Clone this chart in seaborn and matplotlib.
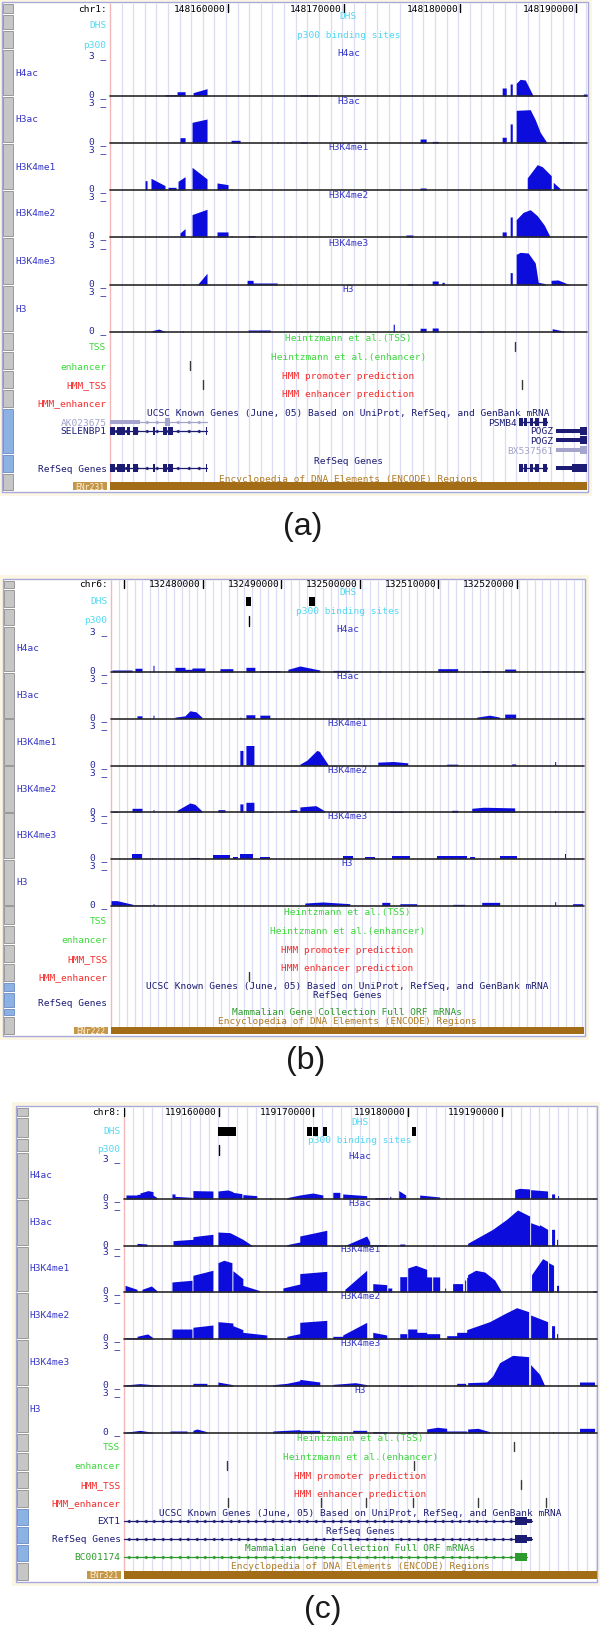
import numpy as np
import matplotlib
matplotlib.use("Agg")
import matplotlib.pyplot as plt
from matplotlib.patches import Rectangle
import seaborn as sns

sns.set_theme(style="white")
plt.rcParams["font.family"] = ["DejaVu Sans Mono", "DejaVu Sans"]

tracks = ["H4ac", "H3ac", "H3K4me1", "H3K4me2", "H3K4me3", "H3"]

# ---------------- panel (a) chr1 : x in kb from the window's left edge ----------------
a_chrom = "chr1"
a_origin = 148149830
a_span = 41.1
a_ticks = [148160000, 148170000, 148180000, 148190000]
a_region = "ENr231"
# signal blocks: (start kb, end kb, value at start, value at end)
a_h4ac = [(4.74, 5.78, 0.1, 0.1), (5.78, 6.47, 0.32, 0.32), (7.16, 8.36, 0.25, 0.55),
          (16.38, 17.84, 0.08, 0.08), (33.79, 34.14, 0.6, 0.6), (34.48, 34.66, 0.9, 0.9),
          (35.0, 35.34, 0.95, 1.25), (35.34, 35.78, 1.25, 1.2), (35.78, 36.47, 1.2, 0.0),
          (40.78, 41.1, 0.15, 0.15)]
a_h3ac = [(6.03, 6.47, 0.4, 0.4), (7.07, 8.36, 1.55, 1.8), (10.43, 11.21, 0.2, 0.2),
          (14.4, 14.5, 0.1, 0.1), (15.5, 15.6, 0.1, 0.1), (16.38, 16.98, 0.08, 0.08),
          (26.72, 27.24, 0.3, 0.3), (27.76, 28.28, 0.12, 0.12), (33.79, 34.14, 0.43, 0.43),
          (34.48, 34.66, 1.43, 1.43), (35.0, 36.21, 2.45, 2.5), (36.21, 36.64, 2.5, 1.75),
          (36.64, 37.07, 1.75, 0.8), (37.07, 37.67, 0.8, 0.0), (38.62, 39.83, 0.1, 0.1)]
a_h3k4me1 = [(3.02, 3.19, 0.7, 0.7), (3.53, 4.74, 0.88, 0.33), (5.0, 5.69, 0.2, 0.2),
             (5.86, 6.47, 0.65, 1.0), (7.07, 8.36, 1.7, 0.83), (9.22, 10.17, 0.53, 0.4),
             (10.43, 10.52, 0.1, 0.1), (12.76, 12.84, 0.08, 0.08), (26.72, 27.24, 0.15, 0.15),
             (35.95, 36.81, 0.9, 1.9), (36.81, 37.24, 1.9, 1.75), (37.24, 38.02, 1.75, 1.07),
             (38.19, 38.79, 0.58, 0.1)]
a_h3k4me2 = [(6.03, 6.47, 0.3, 0.63), (7.07, 8.36, 1.68, 2.08), (9.22, 10.17, 0.38, 0.38),
             (10.43, 10.52, 0.1, 0.1), (11.9, 12.5, 0.1, 0.1), (15.5, 15.6, 0.08, 0.08),
             (25.5, 26.1, 0.15, 0.15), (33.79, 34.14, 0.38, 0.38), (34.48, 34.66, 1.5, 1.5),
             (35.0, 35.6, 1.3, 1.85), (35.6, 36.21, 1.85, 2.05), (36.21, 36.81, 2.05, 1.6),
             (36.81, 37.41, 1.6, 0.9), (37.41, 37.93, 0.9, 0.0)]
a_h3k4me3 = [(6.29, 6.38, 0.1, 0.1), (7.5, 8.36, 0.0, 0.88), (11.81, 12.33, 0.35, 0.35),
             (12.33, 14.4, 0.15, 0.15), (15.5, 15.6, 0.08, 0.08), (25.6, 26.1, 0.08, 0.08),
             (27.76, 28.28, 0.3, 0.3), (28.6, 28.8, 0.2, 0.2), (34.48, 34.66, 0.93, 0.93),
             (35.0, 35.34, 2.3, 2.45), (35.34, 36.03, 2.45, 2.4), (36.03, 36.64, 2.4, 1.65),
             (36.64, 36.9, 1.65, 0.2), (36.9, 37.5, 0.2, 0.1), (38.0, 38.6, 0.35, 0.38),
             (38.6, 39.66, 0.38, 0.0)]
a_h3 = [(3.62, 4.2, 0.1, 0.22), (4.2, 4.74, 0.22, 0.05), (6.2, 6.3, 0.1, 0.1),
        (11.9, 13.8, 0.15, 0.15), (24.4, 24.5, 0.58, 0.58), (26.72, 27.24, 0.28, 0.28),
        (27.76, 28.28, 0.3, 0.3), (31.6, 32.2, 0.05, 0.05), (33.9, 34.05, 0.05, 0.05),
        (38.1, 39.2, 0.25, 0.05)]
a_dhs = []
a_p300 = []
a_tss = [34.91]
a_enh = [6.90]
a_hmm_tss = [8.02, 35.52]
a_hmm_enh = []
a_selenbp1 = [(0.0, 0.43), (0.6, 1.29), (1.47, 1.72), (1.98, 2.41), (3.71, 3.88),
              (4.57, 4.91), (5.0, 5.43), (8.28, 8.36)]
a_psmb4 = [(35.26, 35.6), (35.69, 35.95), (36.2, 36.47), (36.64, 36.98), (37.33, 37.67)]
a_known = [
    dict(name="AK023675", row=0, start=0.0, end=8.36, exons=[(4.74, 5.17)], utr=[(0.0, 2.6)], mrna=True),
    dict(name="PSMB4", row=0, start=35.26, end=37.67, exons=a_psmb4),
    dict(name="SELENBP1", row=1, start=0.0, end=8.36, exons=a_selenbp1),
    dict(name="POGZ", row=1, start=38.45, end=41.1, exons=[(40.5, 41.1)], utr=[(38.45, 40.5)]),
    dict(name="POGZ", row=2, start=38.45, end=41.1, exons=[(40.5, 41.1)], utr=[(38.45, 40.5)]),
    dict(name="BX537561", row=3, start=38.45, end=41.1, exons=[(40.5, 41.1)], utr=[(38.45, 40.5)], mrna=True),
]
a_refseq = [
    dict(name="", start=0.0, end=8.36, exons=a_selenbp1),
    dict(name="", start=35.26, end=37.67, exons=a_psmb4),
    dict(name="", start=38.45, end=41.1, exons=[(39.8, 41.1)], utr=[(38.45, 39.8)]),
]
a_mgc = []

# ---------------- panel (b) chr6 ----------------
b_chrom = "chr6"
b_origin = 132468280
b_span = 60.3
b_ticks = [132470000, 132480000, 132490000, 132500000, 132510000, 132520000]
b_region = "ENr222"
b_h4ac = [(0.13, 2.68, 0.15, 0.15), (3.06, 3.95, 0.28, 0.28), (5.35, 5.48, 0.5, 0.5),
          (8.15, 9.43, 0.35, 0.35), (9.43, 10.32, 0.2, 0.2), (10.32, 11.97, 0.3, 0.3),
          (13.89, 15.54, 0.25, 0.25), (17.2, 18.34, 0.35, 0.35), (18.98, 21.53, 0.1, 0.1),
          (22.55, 24.08, 0.2, 0.45), (24.08, 26.62, 0.45, 0.15), (28.28, 30.45, 0.12, 0.12),
          (34.1, 34.4, 0.08, 0.08), (41.66, 44.2, 0.25, 0.25), (47.26, 48.28, 0.1, 0.1),
          (50.19, 51.59, 0.22, 0.22)]
b_h3ac = [(3.31, 3.95, 0.2, 0.2), (5.35, 5.48, 0.25, 0.25), (8.15, 9.43, 0.1, 0.2),
          (9.43, 10.06, 0.2, 0.58), (10.06, 10.83, 0.58, 0.5), (10.83, 11.59, 0.5, 0.1),
          (16.43, 16.56, 0.1, 0.1), (17.2, 18.34, 0.28, 0.28), (18.98, 20.25, 0.25, 0.25),
          (23.2, 23.3, 0.08, 0.08), (28.28, 28.4, 0.08, 0.08), (31.46, 31.6, 0.08, 0.08),
          (35.9, 36.05, 0.08, 0.08), (46.62, 48.28, 0.1, 0.25), (48.28, 49.55, 0.25, 0.1),
          (50.19, 51.59, 0.33, 0.33), (60.0, 60.1, 0.1, 0.1)]
b_h3k4me1 = [(16.43, 16.82, 1.13, 1.13), (17.2, 18.22, 1.5, 1.5), (24.08, 24.97, 0.1, 0.4),
             (24.97, 26.24, 0.4, 1.13), (26.24, 26.62, 1.13, 1.05), (26.62, 27.64, 1.0, 0.1),
             (31.46, 31.6, 0.08, 0.08), (34.01, 36.0, 0.25, 0.3), (36.0, 37.83, 0.3, 0.2),
             (42.8, 44.2, 0.1, 0.1), (51.08, 51.59, 0.12, 0.12), (56.56, 56.69, 0.3, 0.3)]
b_h3k4me2 = [(0.13, 0.89, 0.08, 0.08), (2.68, 3.95, 0.3, 0.3), (5.35, 5.48, 0.2, 0.2),
             (8.41, 10.06, 0.15, 0.7), (10.06, 10.7, 0.7, 0.6), (10.7, 11.59, 0.6, 0.1),
             (13.63, 14.52, 0.2, 0.2), (16.43, 16.82, 0.63, 0.63), (17.2, 18.22, 0.75, 0.75),
             (18.98, 20.64, 0.05, 0.05), (22.8, 23.69, 0.2, 0.2), (24.08, 26.11, 0.4, 0.5),
             (26.11, 27.26, 0.5, 0.1), (35.54, 37.2, 0.08, 0.08), (43.44, 44.2, 0.15, 0.15),
             (45.99, 47.5, 0.3, 0.38), (47.5, 51.46, 0.38, 0.33), (56.56, 56.69, 0.15, 0.15)]
b_h3k4me3 = [(2.68, 3.95, 0.38, 0.38), (5.22, 5.35, 0.1, 0.1), (10.06, 11.34, 0.1, 0.1),
             (12.99, 15.16, 0.3, 0.3), (15.54, 16.18, 0.15, 0.15), (16.43, 18.09, 0.38, 0.38),
             (18.98, 20.25, 0.15, 0.15), (29.55, 30.83, 0.25, 0.25), (32.36, 33.63, 0.12, 0.12),
             (35.8, 38.09, 0.25, 0.25), (41.53, 45.35, 0.22, 0.22), (45.73, 46.37, 0.15, 0.15),
             (49.55, 51.72, 0.2, 0.2), (57.83, 57.96, 0.35, 0.35)]
b_h3 = [(0.0, 0.76, 0.38, 0.38), (0.76, 2.8, 0.38, 0.1), (2.8, 4.97, 0.05, 0.05),
        (5.35, 5.48, 0.15, 0.15), (10.06, 10.19, 0.05, 0.05), (13.89, 14.02, 0.05, 0.05),
        (19.36, 19.49, 0.05, 0.05), (24.71, 27.0, 0.2, 0.28), (27.0, 30.45, 0.28, 0.15),
        (34.52, 35.54, 0.25, 0.25), (36.82, 38.98, 0.15, 0.15), (43.57, 45.1, 0.1, 0.1),
        (47.26, 49.55, 0.25, 0.25), (56.56, 56.69, 0.3, 0.3), (58.85, 60.13, 0.15, 0.15)]
b_dhs = [(17.2, 17.83), (25.22, 25.99)]
b_p300 = [17.58]
b_tss = []
b_enh = []
b_hmm_tss = []
b_hmm_enh = [17.58]
b_known = []
b_refseq = []
b_mgc = []

# ---------------- panel (c) chr8 ----------------
c_chrom = "chr8"
c_origin = 119149950
c_span = 50.05
c_ticks = [119150000, 119160000, 119170000, 119180000, 119190000]
c_region = "ENr321"
c_h4ac = [(0.21, 1.38, 0.3, 0.3), (1.38, 1.69, 0.35, 0.35), (1.69, 2.54, 0.45, 0.63),
          (2.54, 3.07, 0.63, 0.55), (3.07, 3.49, 0.3, 0.1), (5.08, 5.4, 0.38, 0.38),
          (5.4, 7.2, 0.2, 0.12), (7.3, 9.42, 0.63, 0.6), (9.95, 11.01, 0.6, 0.68),
          (11.01, 11.53, 0.68, 0.55), (11.53, 12.49, 0.5, 0.4), (12.59, 14.07, 0.33, 0.25),
          (15.45, 15.56, 0.1, 0.1), (17.25, 18.62, 0.1, 0.3), (18.62, 20.0, 0.3, 0.45),
          (20.0, 21.06, 0.45, 0.3), (22.12, 22.86, 0.5, 0.5), (23.17, 25.71, 0.38, 0.25),
          (26.56, 27.94, 0.1, 0.1), (28.15, 28.26, 0.2, 0.2), (29.1, 29.84, 0.63, 0.3),
          (31.32, 33.44, 0.3, 0.15), (34.07, 34.18, 0.1, 0.1), (41.38, 41.9, 0.7, 0.8),
          (41.9, 42.96, 0.8, 0.75), (43.07, 44.87, 0.7, 0.6), (45.29, 45.61, 0.38, 0.38),
          (45.93, 46.03, 0.25, 0.25), (49.63, 49.84, 0.05, 0.05)]
c_h3ac = [(1.38, 2.43, 0.2, 0.15), (5.19, 7.3, 0.4, 0.5), (7.3, 9.42, 0.7, 0.88),
          (9.95, 11.22, 1.05, 1.0), (11.22, 12.59, 1.0, 0.5), (12.59, 13.65, 0.5, 0.0),
          (17.25, 18.62, 0.1, 0.3), (18.62, 21.48, 0.75, 1.18), (22.12, 22.86, 0.05, 0.05),
          (23.6, 25.71, 0.1, 0.75), (25.71, 26.03, 0.75, 0.3), (26.03, 27.83, 0.1, 0.1),
          (29.21, 29.74, 0.15, 0.15), (32.7, 32.81, 0.1, 0.1), (36.4, 39.05, 0.2, 1.25),
          (39.05, 40.53, 1.25, 2.0), (40.53, 41.69, 2.0, 2.7), (41.69, 42.96, 2.7, 2.25),
          (43.07, 44.02, 1.75, 1.5), (44.02, 44.87, 1.6, 1.25), (45.29, 45.61, 1.25, 1.25),
          (45.82, 45.93, 0.5, 0.5)]
c_h3k4me1 = [(0.11, 1.38, 0.5, 0.2), (1.9, 2.9, 0.2, 0.45), (2.9, 3.49, 0.45, 0.1),
             (5.08, 7.2, 0.75, 0.88), (7.3, 9.42, 1.25, 1.63), (9.95, 10.58, 2.2, 2.38),
             (10.58, 11.43, 2.38, 2.2), (11.53, 12.59, 1.6, 1.0), (12.59, 14.39, 0.5, 0.1),
             (16.83, 18.62, 0.3, 0.6), (18.62, 21.48, 1.38, 1.55), (23.39, 25.71, 0.2, 1.63),
             (26.35, 27.83, 0.63, 0.55), (27.94, 28.36, 0.3, 0.3), (29.21, 29.95, 1.15, 1.15),
             (30.05, 30.9, 1.8, 2.0), (30.9, 32.06, 2.0, 1.7), (32.06, 32.59, 1.13, 1.13),
             (32.7, 33.44, 1.13, 1.13), (33.97, 34.07, 0.3, 0.3), (34.81, 35.87, 0.63, 0.63),
             (36.08, 36.19, 0.9, 0.9), (36.3, 36.4, 1.1, 1.1), (36.4, 37.25, 1.3, 1.63),
             (37.25, 38.2, 1.63, 1.5), (38.2, 39.26, 1.5, 0.9), (39.26, 40.0, 0.9, 0.0),
             (43.17, 44.34, 1.3, 2.5), (44.34, 44.87, 2.5, 2.3), (44.97, 45.5, 2.2, 2.0),
             (45.82, 46.03, 0.5, 0.5), (49.63, 50.05, 0.1, 0.1)]
c_h3k4me2 = [(0.11, 1.38, 0.1, 0.1), (1.38, 2.5, 0.2, 0.38), (2.5, 3.07, 0.38, 0.1),
             (5.08, 7.2, 0.75, 0.75), (7.3, 9.42, 0.88, 1.05), (9.95, 11.53, 1.3, 1.2),
             (11.53, 12.59, 1.0, 0.7), (12.59, 15.13, 0.5, 0.3), (15.45, 15.56, 0.1, 0.1),
             (17.25, 18.62, 0.2, 0.4), (18.62, 21.48, 1.25, 1.4), (22.12, 23.17, 0.2, 0.2),
             (23.17, 25.71, 0.3, 1.25), (26.35, 27.83, 0.5, 0.3), (29.21, 29.95, 0.4, 0.4),
             (30.05, 31.01, 0.75, 0.75), (31.01, 32.06, 0.5, 0.5), (32.06, 33.44, 0.4, 0.4),
             (34.18, 35.24, 0.25, 0.25), (35.24, 36.3, 0.5, 0.5), (36.3, 38.73, 0.7, 1.3),
             (38.73, 40.32, 1.3, 1.9), (40.32, 41.59, 1.9, 2.35), (41.59, 42.86, 2.35, 2.05),
             (43.07, 44.87, 1.8, 1.3), (45.29, 45.61, 1.0, 1.0), (45.82, 45.93, 0.4, 0.4)]
c_h3k4me3 = [(0.11, 1.7, 0.08, 0.18), (1.7, 3.81, 0.18, 0.05), (7.3, 8.78, 0.2, 0.2),
             (9.95, 11.53, 0.3, 0.1), (15.77, 17.25, 0.1, 0.2), (17.25, 18.62, 0.2, 0.4),
             (18.62, 20.74, 0.5, 0.3), (22.12, 24.5, 0.12, 0.25), (24.5, 25.71, 0.25, 0.1),
             (29.21, 30.58, 0.05, 0.05), (35.24, 36.19, 0.2, 0.2), (36.4, 38.41, 0.25, 0.3),
             (38.41, 39.05, 0.3, 0.75), (39.05, 39.79, 0.75, 1.75), (39.79, 41.16, 1.75, 2.3),
             (41.16, 42.86, 2.3, 2.2), (43.07, 44.02, 1.6, 0.88), (44.02, 44.55, 0.88, 0.05),
             (48.25, 49.84, 0.3, 0.3)]
c_h3 = [(0.11, 1.7, 0.05, 0.2), (1.7, 3.07, 0.2, 0.05), (4.87, 6.67, 0.15, 0.15),
        (7.3, 7.72, 0.2, 0.3), (7.72, 8.78, 0.3, 0.1), (15.77, 18.62, 0.15, 0.25),
        (18.62, 20.74, 0.2, 0.2), (24.23, 25.71, 0.2, 0.2), (26.35, 27.83, 0.1, 0.1),
        (29.95, 31.01, 0.1, 0.1), (32.06, 33.2, 0.3, 0.43), (33.2, 34.18, 0.43, 0.35),
        (34.18, 36.3, 0.15, 0.15), (36.4, 37.5, 0.3, 0.35), (37.5, 38.73, 0.35, 0.1),
        (45.4, 45.5, 0.1, 0.1), (48.25, 49.84, 0.35, 0.35)]
c_dhs = [(9.95, 11.85), (19.37, 19.89), (20.0, 20.53), (21.06, 21.48), (30.48, 30.9)]
c_p300 = [10.05]
c_tss = [41.27]
c_enh = [10.9, 30.69]
c_hmm_tss = [42.01]
c_hmm_enh = [11.0, 20.85, 25.61, 30.58, 37.46, 44.66]
c_known = [dict(name="EXT1", row=0, start=0.0, end=43.17, exons=[(41.38, 42.65)], utr=[(42.65, 43.17)])]
c_refseq = [dict(name="", start=0.0, end=43.17, exons=[(41.38, 42.65)], utr=[(42.65, 43.17)])]
c_mgc = [dict(name="BC001174", start=0.0, end=42.65, exons=[(41.38, 42.65)])]

# ---------------- layout (pixels) ----------------
W, H = 600, 1633
SIGNAL = "#0c0cdc"
GRID = "#dcdcf2"
FRAME = "#a9a9d9"
CREAM = "#fbf5e3"
CYAN = "#52d8f2"
TRACK = "#3434c8"
SCALE = "#26269a"
GREEN = "#3cd83c"
RED = "#f42c2c"
NAVY = "#1c1c74"
LIGHT = "#a4a4cc"
MGC = "#2c9a2c"
BROWN = "#a36d17"
FS = 6.8


def buttons(top, ruler, dhs, p300, bases, ann, genes_blue, bottom):
    rows = [(top, ruler, "g"), (ruler, dhs, "g"), (dhs, p300, "g")]
    prev = p300
    for b in bases:
        rows.append((prev, b, "g"))
        prev = b
    for a in ann:
        rows.append((prev, a, "g"))
        prev = a
    for gb in genes_blue:
        rows.append((prev, gb, "b"))
        prev = gb
    rows.append((prev, bottom, "g"))
    return rows


LAYOUT_A = dict(frame=(2, 3, 588, 493), side=(3, 13), data=(110, 587), label_x=15,
                ruler=9, dhs=26, p300=45, base=[97, 144, 191, 238, 286, 333],
                tss=348, enh=367, hmm_tss=386, hmm_enh=404, ucsc=414,
                gene_rows=[423, 432, 441, 451], refseq_title=461, refseq_row=469,
                mgc_title=None, mgc_row=None, enc_title=479, enc_bar=(483, 491),
                letter=(303, 527),
                buttons=buttons(4, 15, 31, 50, [97, 144, 191, 238, 286, 333],
                                [352, 371, 390, 409], [455, 474], 492))
LAYOUT_B = dict(frame=(3, 580, 585, 1037), side=(4, 14), data=(111, 584), label_x=16,
                ruler=585, dhs=602, p300=621, base=[673, 719.5, 766.5, 813.3, 860, 906.7],
                tss=922, enh=941, hmm_tss=960, hmm_enh=978, ucsc=987,
                gene_rows=[], refseq_title=996, refseq_row=1004,
                mgc_title=1013, mgc_row=None, enc_title=1022, enc_bar=(1028, 1035),
                letter=(306, 1061),
                buttons=buttons(581, 590, 609, 627, [673, 719.5, 766.5, 813.3, 860, 906.7],
                                [926, 945, 964, 983], [993, 1009, 1017], 1036))
LAYOUT_C = dict(frame=(16, 1107, 597, 1583), side=(17, 28), data=(124, 596.5), label_x=29,
                ruler=1113, dhs=1132, p300=1150, base=[1200, 1247, 1293, 1340, 1387, 1434],
                tss=1448, enh=1467, hmm_tss=1486, hmm_enh=1504, ucsc=1514,
                gene_rows=[1522], refseq_title=1532, refseq_row=1540,
                mgc_title=1549, mgc_row=1558, enc_title=1567, enc_bar=(1572, 1580),
                letter=(323, 1610),
                buttons=buttons(1108, 1118, 1139, 1153, [1200, 1247, 1293, 1340, 1387, 1434],
                                [1453, 1472, 1490, 1509], [1527, 1545, 1563], 1582))

panels = [
    dict(letter="(a)", chrom=a_chrom, origin=a_origin, span=a_span, ticks=a_ticks, region=a_region,
         signals=[a_h4ac, a_h3ac, a_h3k4me1, a_h3k4me2, a_h3k4me3, a_h3],
         dhs=a_dhs, p300=a_p300, tss=a_tss, enh=a_enh, hmm_tss=a_hmm_tss, hmm_enh=a_hmm_enh,
         known=a_known, refseq=a_refseq, mgc=a_mgc, layout=LAYOUT_A),
    dict(letter="(b)", chrom=b_chrom, origin=b_origin, span=b_span, ticks=b_ticks, region=b_region,
         signals=[b_h4ac, b_h3ac, b_h3k4me1, b_h3k4me2, b_h3k4me3, b_h3],
         dhs=b_dhs, p300=b_p300, tss=b_tss, enh=b_enh, hmm_tss=b_hmm_tss, hmm_enh=b_hmm_enh,
         known=b_known, refseq=b_refseq, mgc=b_mgc, layout=LAYOUT_B),
    dict(letter="(c)", chrom=c_chrom, origin=c_origin, span=c_span, ticks=c_ticks, region=c_region,
         signals=[c_h4ac, c_h3ac, c_h3k4me1, c_h3k4me2, c_h3k4me3, c_h3],
         dhs=c_dhs, p300=c_p300, tss=c_tss, enh=c_enh, hmm_tss=c_hmm_tss, hmm_enh=c_hmm_enh,
         known=c_known, refseq=c_refseq, mgc=c_mgc, layout=LAYOUT_C),
]

fig = plt.figure(figsize=(W / 100, H / 100), dpi=100)
bg = fig.add_axes([0, 0, 1, 1], zorder=0)
bg.set_xlim(0, W)
bg.set_ylim(H, 0)
bg.set_axis_off()


def px_axes(x0, y0, x1, y1, z):
    ax = fig.add_axes([x0 / W, 1 - y1 / H, (x1 - x0) / W, (y1 - y0) / H], zorder=z)
    ax.set_axis_off()
    ax.patch.set_alpha(0)
    return ax


def outline(blocks):
    xs, ys = [], []
    for s, e, h0, h1 in blocks:
        if xs and abs(xs[-1] - s) < 1e-6:
            xs.pop()
            ys.pop()
            xs += [s, e, e]
            ys += [h0, h1, 0]
        else:
            xs += [s, s, e, e]
            ys += [0, h0, h1, 0]
    return xs, ys


def draw_gene(pax, g, y, color, label_right):
    pax.plot([g["start"], g["end"]], [y, y], color=color, lw=0.9)
    chev = np.arange(g["start"] + 0.4, g["end"], 0.9)
    pax.plot(chev, [y] * len(chev), ls="none", marker="<", ms=2.2, mew=0.4, color=color)
    for s, e in g.get("utr", []):
        pax.add_patch(Rectangle((s, y - 2.2), e - s, 4.4, color=color, lw=0))
    for s, e in g["exons"]:
        pax.add_patch(Rectangle((s, y - 3.6), e - s, 7.2, color=color, lw=0))
    if g["name"]:
        if g["start"] < 0.2:
            bg.text(label_right, y, g["name"], ha="right", va="center", fontsize=FS, color=color)
        else:
            pax.annotate(g["name"], (g["start"], y), xytext=(-2, 0), textcoords="offset points",
                         ha="right", va="center", fontsize=FS, color=color)


for p in panels:
    L = p["layout"]
    fx0, fy0, fx1, fy1 = L["frame"]
    dl, dr = L["data"]
    span = p["span"]
    ppk = (dr - dl) / span
    lr = dl - 3.5

    bg.add_patch(Rectangle((fx0 - 4, fy0 - 4), fx1 - fx0 + 8, fy1 - fy0 + 8, fc=CREAM, ec="none"))
    bg.add_patch(Rectangle((fx0, fy0), fx1 - fx0, fy1 - fy0, fc="white", ec=FRAME, lw=1))
    sx0, sx1 = L["side"]
    for y0, y1, kind in L["buttons"]:
        fc, ec = ("#c6c6c6", "#8e8e8e") if kind == "g" else ("#8cb2e4", "#6a8ac4")
        bg.add_patch(Rectangle((sx0, y0 + 0.6), sx1 - sx0, y1 - y0 - 1.2, fc=fc, ec=ec, lw=0.6))

    pax = px_axes(dl, fy0 + 1, dr, fy1 - 1, 1)
    enc0, enc1 = L["enc_bar"]
    pax.vlines(np.arange(1, span, 1.0), fy0 + 1, enc0, color=GRID, lw=0.9, zorder=0)
    pax.vlines([0], fy0 + 1, enc0, color="#f2b8b8", lw=1, zorder=0, clip_on=False)

    # ruler
    ry = L["ruler"]
    bg.text(lr, ry, p["chrom"] + ":", ha="right", va="center", fontsize=FS, color="black")
    for t in p["ticks"]:
        kb = (t - p["origin"]) / 1000
        pax.plot([kb, kb], [ry - 4.5, ry + 4], color="black", lw=1)
        if kb * ppk > 55:
            pax.annotate(str(t), (kb, ry), xytext=(-1.5, 0), textcoords="offset points",
                         ha="right", va="center", fontsize=FS, color="black")

    # DHS / p300
    for key, label, title in [("dhs", "DHS", "DHS"), ("p300", "p300", "p300 binding sites")]:
        y = L[key]
        bg.text(lr, y, label, ha="right", va="center", fontsize=FS, color=CYAN)
        pax.text(span / 2, y - 9.5, title, ha="center", va="center", fontsize=FS, color=CYAN)
    for s, e in p["dhs"]:
        pax.add_patch(Rectangle((s, L["dhs"] - 4.5), e - s, 9, color="black", lw=0))
    for x in p["p300"]:
        pax.plot([x, x], [L["p300"] - 4, L["p300"] + 5.5], color="black", lw=1)

    # histone signal tracks
    for name, base, blocks in zip(tracks, L["base"], p["signals"]):
        bg.text(L["label_x"], base - 24, name, ha="left", va="center", fontsize=FS, color=TRACK)
        bg.text(lr, base - 41, "3 _", ha="right", va="center", fontsize=FS, color=SCALE)
        bg.text(lr, base - 2, "0 _", ha="right", va="center", fontsize=FS, color=SCALE)
        pax.text(span / 2, base - 43, name, ha="center", va="center", fontsize=FS, color=TRACK)
        tax = px_axes(dl, base - 40, dr, base, 2)
        xs, ys = outline(blocks)
        tax.fill_between(xs, ys, 0, color=SIGNAL, lw=0)
        sns.lineplot(x=[0, span], y=[0, 0], ax=tax, color="#2a2a2a", lw=1.2, clip_on=False)
        tax.set_xlim(0, span)
        tax.set_ylim(0, 3)
        tax.set_axis_off()

    # point annotations
    for key, label, title, col in [("tss", "TSS", "Heintzmann et al.(TSS)", GREEN),
                                   ("enh", "enhancer", "Heintzmann et al.(enhancer)", GREEN),
                                   ("hmm_tss", "HMM_TSS", "HMM promoter prediction", RED),
                                   ("hmm_enh", "HMM_enhancer", "HMM enhancer prediction", RED)]:
        y = L[key]
        bg.text(lr, y, label, ha="right", va="center", fontsize=FS, color=col)
        pax.text(span / 2, y - 9.5, title, ha="center", va="center", fontsize=FS, color=col)
        for x in p[key]:
            pax.plot([x, x], [y - 5, y + 4], color="#3a3a3a", lw=1)

    # gene tracks
    pax.text(span / 2, L["ucsc"], "UCSC Known Genes (June, 05) Based on UniProt, RefSeq, and GenBank mRNA",
             ha="center", va="center", fontsize=FS, color=NAVY)
    for g in p["known"]:
        draw_gene(pax, g, L["gene_rows"][g["row"]], LIGHT if g.get("mrna") else NAVY, lr)
    pax.text(span / 2, L["refseq_title"], "RefSeq Genes", ha="center", va="center", fontsize=FS, color=NAVY)
    bg.text(lr, L["refseq_row"], "RefSeq Genes", ha="right", va="center", fontsize=FS, color=NAVY)
    for g in p["refseq"]:
        draw_gene(pax, g, L["refseq_row"], NAVY, lr)
    if L["mgc_title"]:
        pax.text(span / 2, L["mgc_title"], "Mammalian Gene Collection Full ORF mRNAs",
                 ha="center", va="center", fontsize=FS, color=MGC)
    for g in p["mgc"]:
        draw_gene(pax, g, L["mgc_row"], MGC, lr)

    # ENCODE regions
    pax.text(span / 2, L["enc_title"], "Encyclopedia of DNA Elements (ENCODE) Regions",
             ha="center", va="center", fontsize=FS, color="#b07c26")
    pax.add_patch(Rectangle((0, enc0), span, enc1 - enc0, color=BROWN, lw=0))
    bg.add_patch(Rectangle((dl - 37, enc0), 34, enc1 - enc0, fc="#c4964a", ec="none"))
    bg.text(dl - 20, (enc0 + enc1) / 2, p["region"], ha="center", va="center", fontsize=5.8,
            color="#fff2d6")

    pax.set_xlim(0, span)
    pax.set_ylim(fy1 - 1, fy0 + 1)

    lx, ly = L["letter"]
    bg.text(lx, ly, p["letter"], ha="center", va="center", fontsize=23,
            family=["Liberation Sans", "DejaVu Sans"], color="#1a1a1a")

fig.savefig("out.png", dpi=100)
